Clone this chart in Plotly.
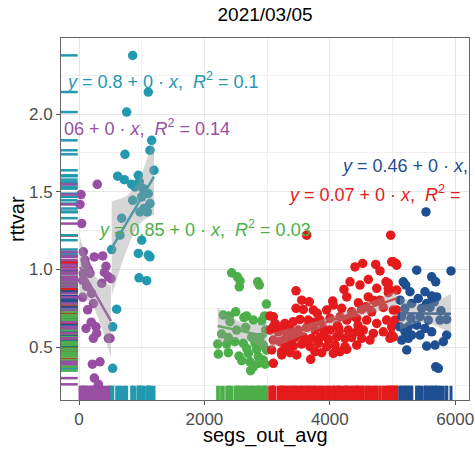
import numpy as np
import plotly.graph_objects as go

# ---------------- data ----------------
purple_x = [43, 69, 96, 244, 378, 69, 175, 431, 468, 510, 362, 122, 202, 59, 138, 229, 112, 271,
            229, 282, 468, 213, 335, 245, 309, 292, 32, 16, 110, 405, 150, 60, 195, 495]
purple_y = [1.295, 1.113, 1.06, 1.08, 1.087, 0.974, 0.974, 1.02, 0.952, 0.94, 0.91, 0.89, 0.845, 0.82,
            0.74, 0.78, 0.62, 0.63, 0.556, 0.588, 0.556, 0.39, 0.405, 0.30, 0.26, 1.548, 1.482, 1.418,
            1.03, 0.98, 1.0, 0.93, 0.66, 0.556]

teal_x = [856, 1105, 760, 1159, 1132, 733, 1196, 617, 723, 946, 840, 893, 962, 1026, 856, 999, 1105,
          1132, 973, 1089, 1037, 680, 654, 521, 1000, 946, 1105, 1132, 957, 1080, 601, 537, 537]
teal_y = [2.378, 2.142, 2.013, 1.831, 1.767, 1.741, 1.638, 1.60, 1.578, 1.606, 1.548, 1.531, 1.563,
          1.52, 1.445, 1.467, 1.488, 1.424, 1.37, 1.37, 1.392, 1.33, 1.22, 1.128, 1.188, 1.103, 1.092,
          1.081, 0.946, 0.927, 0.744, 0.63, 0.363]

green_x = [2435, 2525, 2568, 2557, 2850, 2876, 2990, 2301, 2397, 2499, 2674, 2408, 2914, 2658, 2977,
           2515, 2275, 2381, 2754, 2887, 2212, 2356, 2488, 2620, 2807, 2939, 2222, 2381, 2552, 2700,
           2860, 2595, 2727, 2860, 2967, 2780, 2738, 2939, 2674, 2834, 2993, 2630, 2780, 2960]
green_y = [0.978, 0.952, 0.926, 0.888, 0.92, 0.899, 0.777, 0.706, 0.70, 0.727, 0.70, 0.663, 0.669,
           0.627, 0.609, 0.609, 0.584, 0.562, 0.562, 0.562, 0.519, 0.519, 0.534, 0.524, 0.524, 0.513,
           0.455, 0.464, 0.442, 0.459, 0.438, 0.412, 0.405, 0.395, 0.39, 0.373, 0.348, 0.416, 0.49,
           0.485, 0.48, 0.69, 0.674, 0.70]

red_x = [3631, 4971, 4402, 4524, 4731, 4800, 4987, 5056, 4322, 4614, 4896, 3461, 4226, 4482, 4748,
         4933, 5067, 3552, 3673, 4046, 4270, 4455, 4614, 4800, 3461, 3577, 3737, 3801, 3950, 4056,
         4190, 4349, 4509, 4668, 4853, 5013, 3285, 3418, 3525, 3657, 3844, 4003, 4163, 4270, 4429,
         4588, 4748, 4907, 5040, 3258, 3365, 3498, 3631, 3764, 3897, 4003, 4136, 4295, 4429, 4535,
         4694, 4853, 4987, 3313, 3445, 3577, 3711, 3844, 3976, 4110, 4242, 4349, 4509, 4641, 3285,
         3418, 3552, 3684, 3817, 3950, 4083, 4242, 4429, 3233, 3365, 3472, 3764, 3871, 4056, 4163,
         4270, 3695, 3099, 3099, 3179, 3099, 3206, 3073, 3233, 3099, 3233, 3313, 3046, 3126, 3046,
         3206, 3392, 5013, 5067, 4933, 4950, 4933, 4987, 4960, 5013, 5067, 4120, 4380, 3900, 3600,
         4700, 4580, 3350, 3750, 4450, 4150]
red_y = [1.22, 1.22, 1.016, 1.038, 1.032, 0.99, 1.049, 1.038, 0.92, 0.935, 0.92, 0.862, 0.871, 0.899,
         0.878, 0.878, 0.867, 0.802, 0.791, 0.796, 0.823, 0.785, 0.823, 0.802, 0.749, 0.742, 0.738,
         0.717, 0.738, 0.77, 0.749, 0.727, 0.742, 0.727, 0.755, 0.738, 0.652, 0.663, 0.678, 0.674,
         0.674, 0.685, 0.695, 0.674, 0.685, 0.674, 0.652, 0.674, 0.674, 0.609, 0.62, 0.609, 0.627,
         0.609, 0.62, 0.609, 0.627, 0.609, 0.598, 0.609, 0.588, 0.598, 0.577, 0.566, 0.562, 0.566,
         0.556, 0.562, 0.549, 0.566, 0.556, 0.562, 0.556, 0.545, 0.513, 0.506, 0.519, 0.502, 0.524,
         0.502, 0.513, 0.502, 0.513, 0.459, 0.464, 0.449, 0.47, 0.464, 0.459, 0.47, 0.485, 0.421,
         0.695, 0.63, 0.598, 0.545, 0.534, 0.481, 0.47, 0.395, 0.449, 0.502, 0.70, 0.652, 0.609,
         0.63, 0.60, 1.049, 1.027, 0.91, 0.87, 0.85, 0.63, 0.556, 0.566, 0.738, 0.64, 0.70, 0.58,
         0.54, 0.80, 0.76, 0.55, 0.66, 0.64, 0.60]

blue_x = [5386, 5933, 5625, 5689, 5172, 5211, 5279, 5518, 5625, 5705, 5411, 5120, 5306, 5545, 5667,
          5199, 5466, 5598, 5773, 5147, 5295, 5439, 5571, 5758, 5864, 5120, 5252, 5386, 5518, 5199,
          5306, 5439, 5625, 5864, 5147, 5252, 5810, 5545, 5678, 5227, 5689, 5731, 5534]
blue_y = [0.995, 0.99, 0.952, 0.92, 0.92, 0.899, 0.856, 0.856, 0.828, 0.823, 0.813, 0.802, 0.781,
          0.781, 0.791, 0.749, 0.749, 0.755, 0.733, 0.695, 0.685, 0.695, 0.674, 0.674, 0.678, 0.63,
          0.63, 0.641, 0.62, 0.598, 0.577, 0.577, 0.598, 0.577, 0.545, 0.556, 0.534, 0.506, 0.513,
          0.481, 0.373, 0.363, 1.37]

colors = {"purple": "#984EA3", "teal": "#2399B0", "green": "#4DAF4A",
          "red": "#E41A1C", "blue": "#1D4F91"}

groups = [("purple", purple_x, purple_y), ("teal", teal_x, teal_y), ("green", green_x, green_y),
          ("red", red_x, red_y), ("blue", blue_x, blue_y)]

eq_names = ["teal", "purple", "green", "blue", "red"]
eq_texts = [
    "<i>y</i> = 0.8 + 0 · <i>x</i>,\u00a0\u00a0<i>R</i><sup>2</sup> = 0.1",
    "06 + 0 · <i>x</i>,\u00a0\u00a0<i>R</i><sup>2</sup> = 0.14",
    "<i>y</i> = 0.85 + 0 · <i>x</i>,\u00a0\u00a0<i>R</i><sup>2</sup> = 0.03",
    "<i>y</i> = 0.46 + 0 · <i>x</i>,",
    "<i>y</i> = 0.07 + 0 · <i>x</i>,\u00a0\u00a0<i>R</i><sup>2</sup> =",
]
eq_x = [-240, -265, 270, 4150, 3300]
eq_y = [2.217, 1.915, 1.265, 1.664, 1.49]

x_title = "segs_out_avg"
y_title = "rttvar"
chart_title = "2021/03/05"


def fit_band(x, y, n=60):
    x = np.asarray(x, float)
    y = np.asarray(y, float)
    b1, b0 = np.polyfit(x, y, 1)
    xs = np.linspace(x.min(), x.max(), n)
    yh = b0 + b1 * xs
    df = len(x) - 2
    s = np.sqrt(np.sum((y - (b0 + b1 * x)) ** 2) / df)
    se = s * np.sqrt(1 / len(x) + (xs - x.mean()) ** 2 / np.sum((x - x.mean()) ** 2))
    t = 1.96 + 2.4 / df
    return xs, yh, yh - t * se, yh + t * se


fig = go.Figure()

# points
for name, gx, gy in groups:
    fig.add_trace(go.Scatter(x=gx, y=gy, mode="markers",
                             marker=dict(color=colors[name], size=9.5, line=dict(width=0)),
                             showlegend=False, hoverinfo="skip"))

# smooth lines + bands
for name, gx, gy in groups:
    xs, yh, lo, hi = fit_band(gx, gy)
    fig.add_trace(go.Scatter(x=xs, y=yh, mode="lines",
                             line=dict(color=colors[name], width=2.5),
                             showlegend=False, hoverinfo="skip"))
    fig.add_trace(go.Scatter(x=np.concatenate([xs, xs[::-1]]),
                             y=np.concatenate([hi, lo[::-1]]),
                             fill="toself", fillcolor="rgba(153,153,153,0.4)",
                             line=dict(width=0), mode="lines",
                             showlegend=False, hoverinfo="skip"))

# rugs
rug_order = ["red", "blue", "teal", "green", "purple"]
gdict = {n: (gx, gy) for n, gx, gy in groups}
for name in rug_order:
    gx, gy = gdict[name]
    fig.add_trace(go.Scatter(x=[0.017] * len(gy), y=gy, xaxis="x2", yaxis="y", mode="markers",
                             marker=dict(symbol="line-ew", size=14,
                                         line=dict(color=colors[name], width=2.5)),
                             showlegend=False, hoverinfo="skip"))
for name in ["purple", "teal", "green", "red", "blue"]:
    gx, gy = gdict[name]
    fig.add_trace(go.Scatter(x=gx, y=[0.016] * len(gx), xaxis="x", yaxis="y2", mode="markers",
                             marker=dict(symbol="line-ns", size=12,
                                         line=dict(color=colors[name], width=3)),
                             showlegend=False, hoverinfo="skip"))

annotations = []
for name, txt, ax, ay in zip(eq_names, eq_texts, eq_x, eq_y):
    annotations.append(dict(x=ax, y=ay, xref="x", yref="y", text=txt, showarrow=False,
                            xanchor="left", yanchor="middle",
                            font=dict(size=18, color=colors[name],
                                      family="Liberation Sans, Arial, sans-serif")))
# axis titles
annotations.append(dict(x=0.5, y=-35 / 362, xref="paper", yref="paper", text=x_title,
                        showarrow=False, xanchor="center", yanchor="middle",
                        font=dict(size=20, color="black")))
annotations.append(dict(x=-44 / 408, y=0.5, xref="paper", yref="paper", text=y_title,
                        showarrow=False, xanchor="center", yanchor="middle", textangle=-90,
                        font=dict(size=20, color="black")))

axis_common = dict(showline=True, linecolor="#666666", linewidth=1, mirror=True,
                   ticks="outside", ticklen=4, tickcolor="#555555",
                   tickfont=dict(size=17, color="#4d4d4d"), automargin=False,
                   gridcolor="#e6e6e6", gridwidth=1, zeroline=False)

fig.update_layout(
    width=475, height=450,
    margin=dict(l=61, r=6, t=38, b=50),
    paper_bgcolor="white", plot_bgcolor="white",
    font=dict(family="Liberation Sans, Arial, sans-serif", color="black"),
    title=dict(text=chart_title, x=0.558, xanchor="center", y=0.969, yanchor="middle",
               font=dict(size=19, color="black")),
    xaxis=dict(range=[-287, 6220], tickvals=[0, 2000, 4000, 6000],
               minor=dict(tickvals=[1000, 3000, 5000], showgrid=True, gridcolor="#f0f0f0", ticks=""),
               **axis_common),
    yaxis=dict(range=[0.159, 2.49], tickvals=[0.5, 1.0, 1.5, 2.0], ticktext=["0.5", "1.0", "1.5", "2.0"],
               minor=dict(tickvals=[0.25, 0.75, 1.25, 1.75, 2.25], showgrid=True, gridcolor="#f0f0f0", ticks=""),
               **axis_common),
    xaxis2=dict(overlaying="x", range=[0, 1], visible=False),
    yaxis2=dict(overlaying="y", range=[0, 1], visible=False),
    annotations=annotations,
)

fig.write_html("out.html")
